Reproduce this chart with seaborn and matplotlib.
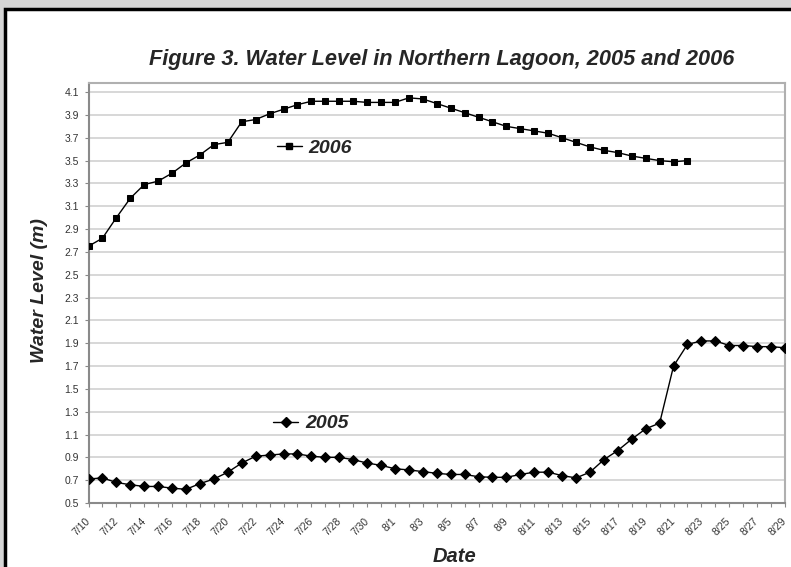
import numpy as np
import pandas as pd
import matplotlib
matplotlib.use("Agg")
import matplotlib.pyplot as plt
from matplotlib.lines import Line2D
from matplotlib.patches import Rectangle
import seaborn as sns

# daily readings, 7/10 through 8/29
days = pd.date_range("2006-07-10", "2006-08-29", freq="D")
day_labels = [f"{d.month}/{d.day}" for d in days]

level_2005 = [0.71, 0.72, 0.68, 0.66, 0.645, 0.645, 0.63, 0.62, 0.67, 0.71,
              0.77, 0.85, 0.91, 0.92, 0.93, 0.93, 0.91, 0.90, 0.90, 0.88,
              0.85, 0.83, 0.80, 0.79, 0.775, 0.76, 0.75, 0.75, 0.73, 0.725,
              0.725, 0.75, 0.77, 0.77, 0.74, 0.72, 0.77, 0.88, 0.96, 1.06,
              1.15, 1.20, 1.70, 1.89, 1.92, 1.92, 1.88, 1.88, 1.87, 1.87,
              1.86]
level_2006 = [2.75, 2.82, 3.00, 3.17, 3.29, 3.32, 3.39, 3.48, 3.55, 3.64,
              3.66, 3.84, 3.86, 3.91, 3.95, 3.99, 4.02, 4.02, 4.02, 4.02,
              4.01, 4.01, 4.01, 4.05, 4.04, 4.00, 3.96, 3.92, 3.88, 3.84,
              3.80, 3.78, 3.76, 3.74, 3.70, 3.66, 3.62, 3.59, 3.57, 3.54,
              3.52, 3.50, 3.49, 3.50]
y_ticks = [0.5, 0.7, 0.9, 1.1, 1.3, 1.5, 1.7, 1.9, 2.1, 2.3, 2.5, 2.7, 2.9,
           3.1, 3.3, 3.5, 3.7, 3.9, 4.1]

df = pd.concat([
    pd.DataFrame({"day": np.arange(len(level_2005)), "level": level_2005, "year": "2005"}),
    pd.DataFrame({"day": np.arange(len(level_2006)), "level": level_2006, "year": "2006"}),
])

sns.set_style("white")
plt.rcParams["font.family"] = ["Liberation Sans", "DejaVu Sans"]

fig, ax = plt.subplots(figsize=(7.91, 5.67), dpi=100)
fig.patch.set_facecolor("#d6d6d6")
fig.patches.append(Rectangle((5 / 791, -0.1), 1.2, 1.1 - 9 / 567,
                             transform=fig.transFigure, facecolor="white",
                             edgecolor="black", linewidth=2.5, zorder=-10))
fig.subplots_adjust(left=88.5 / 791, right=785 / 791,
                    bottom=1 - 503 / 567, top=1 - 83 / 567)

sns.lineplot(data=df, x="day", y="level", hue="year", style="year",
             markers={"2005": "D", "2006": "s"}, dashes=False,
             palette={"2005": "black", "2006": "black"},
             markersize=5, linewidth=1, markeredgecolor="black",
             legend=False, ax=ax, zorder=3)

ax.set_xlim(0, len(days) - 1)
ax.set_ylim(0.5, 4.18)
ax.set_yticks(y_ticks)
ax.set_yticklabels([f"{v:.1f}" for v in y_ticks])
ax.set_xticks(np.arange(len(days)))
ax.set_xticklabels([lab if i % 2 == 0 else "" for i, lab in enumerate(day_labels)],
                   rotation=45, ha="right", va="center", rotation_mode="anchor")
ax.tick_params(axis="x", length=3, width=0.8, color="#888888", pad=9,
               labelsize=7.5, labelcolor="#333333", bottom=True)
ax.tick_params(axis="y", length=3, width=0.8, color="#888888", pad=4,
               labelsize=7.5, labelcolor="#333333", left=True)
ax.grid(axis="y", color="#d4d4d4", linewidth=1.3)
for side, sp in ax.spines.items():
    sp.set_color("#8a8a8a" if side in ("left", "bottom") else "#b0b0b0")
    sp.set_linewidth(1.5)

ax.set_xlabel("Date", fontweight="bold", fontstyle="italic", fontsize=14.5)
ax.set_ylabel("Water Level (m)", fontweight="bold", fontstyle="italic", fontsize=14)
ax.xaxis.set_label_coords(0.525, -0.105)
ax.yaxis.set_label_coords(-0.058, 0.505)

fig.text(442 / 791, 1 - 60 / 567,
         "Figure 3. Water Level in Northern Lagoon, 2005 and 2006",
         ha="center", va="center", fontsize=15.7, fontweight="bold",
         fontstyle="italic")

# series name labels placed inside the plot
leg_kw = dict(frameon=False, borderpad=0, borderaxespad=0, handlelength=1.3,
              handletextpad=0.35, loc="center left",
              prop=dict(size=14, weight="bold", style="italic"))
h06 = Line2D([], [], color="black", lw=1, marker="s", markersize=5)
h05 = Line2D([], [], color="black", lw=1, marker="D", markersize=5)
leg1 = ax.legend([h06], ["2006"], bbox_to_anchor=(0.27, 0.8456), **leg_kw)
ax.add_artist(leg1)
ax.legend([h05], ["2005"], bbox_to_anchor=(0.265, 0.189), **leg_kw)

fig.savefig("out.png", dpi=100)
